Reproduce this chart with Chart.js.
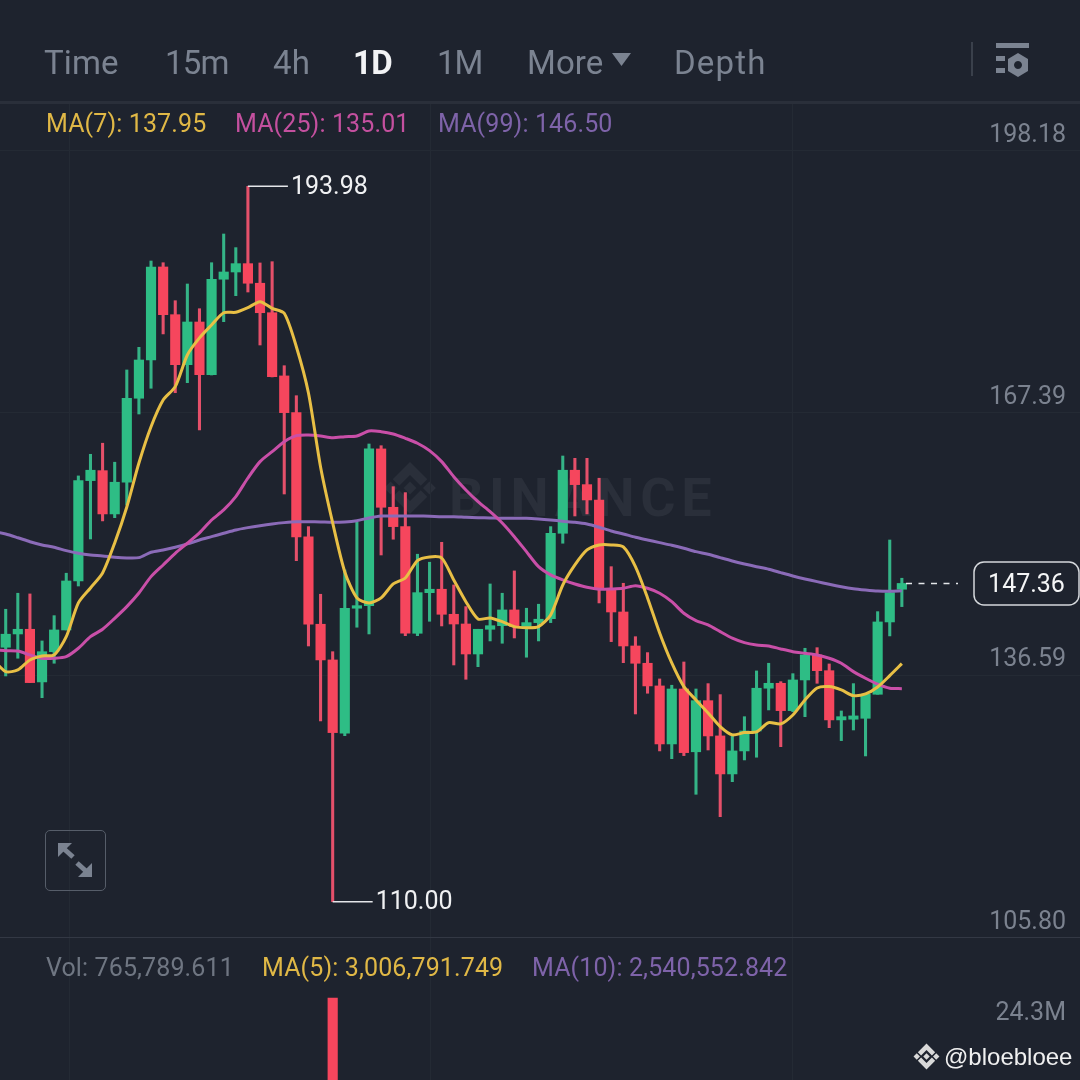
<!DOCTYPE html>
<html>
<head>
<meta charset="utf-8">
<script src="https://cdn.jsdelivr.net/npm/chart.js@4"></script>
<style>
body{margin:0;background:#1e232e;width:1080px;height:1080px;overflow:hidden;position:relative;font-family:Roboto,sans-serif;}
canvas{position:absolute;left:0;}
.t{position:absolute;white-space:nowrap;line-height:1;transform:translateY(-50%);}
.tab{font-size:33px;color:#7b8391;letter-spacing:.1px;}
.ma{font-size:25px;letter-spacing:.12px;}
.yellow{color:#e0b846;}
.pink{color:#c4509f;}
.purple{color:#7e63a9;}
.line{position:absolute;background:#2a2f3a;}
svg{position:absolute;}
</style>
</head>
<body>

<!-- watermark sits under the charts -->
<svg style="left:383px;top:461px" width="54" height="54" viewBox="0 0 100 100" fill="#2a2f3a">
<polygon points="50,2 82,34 70,46 50,26 30,46 18,34"/>
<polygon points="50,98 82,66 70,54 50,74 30,54 18,66"/>
<polygon points="50,38 62,50 50,62 38,50"/>
<polygon points="14,38 26,50 14,62 2,50"/>
<polygon points="86,38 98,50 86,62 74,50"/>
</svg>
<div class="t" style="left:449px;top:498px;font-size:54px;font-weight:700;letter-spacing:5.6px;color:#2a2f3a">BINANCE</div>

<canvas id="priceChart" width="1080" height="938" style="top:0"></canvas>
<canvas id="volChart" width="1080" height="142" style="top:938px"></canvas>

<!-- top bar -->
<div class="t tab" style="left:44px;top:62px">Time</div>
<div class="t tab" style="left:165px;top:62px;letter-spacing:-.8px">15m</div>
<div class="t tab" style="left:273px;top:62px">4h</div>
<div class="t tab" style="left:353px;top:62px;color:#f2f3f5;font-weight:700;letter-spacing:-.6px">1D</div>
<div class="t tab" style="left:437px;top:62px;letter-spacing:-1px">1M</div>
<div class="t tab" style="left:527px;top:62px">More</div>
<svg style="left:612px;top:53px" width="19" height="14"><polygon points="0,0 19,0 9.5,13" fill="#7b8391"/></svg>
<div class="t tab" style="left:674px;top:62px;letter-spacing:1.2px">Depth</div>
<div class="line" style="left:971px;top:42px;width:2px;height:34px;background:#3a404b"></div>
<svg style="left:996px;top:43px" width="34" height="34" fill="#7b8391">
<rect x="0" y="0" width="33" height="5"/>
<rect x="0" y="13" width="9" height="5"/>
<rect x="0" y="25" width="9" height="5"/>
<path fill-rule="evenodd" d="M22 10 L32 16 L32 28 L22 34 L12 28 L12 16 Z M22 18 a4 4 0 1 0 .01 0 Z"/>
</svg>
<div class="line" style="left:0;top:101px;width:1080px;height:3px"></div>

<!-- MA legend -->
<div class="t ma yellow" style="left:46px;top:123px">MA(7): 137.95</div>
<div class="t ma pink" style="left:235px;top:123px">MA(25): 135.01</div>
<div class="t ma purple" style="left:438px;top:123px">MA(99): 146.50</div>

<!-- expand button -->
<div style="position:absolute;left:45px;top:830px;width:59px;height:59px;border:1.5px solid #565d69;border-radius:5px"></div>
<svg style="left:57px;top:842px" width="36" height="36" fill="#7b8391" stroke="#7b8391">
<polygon points="1,1 15,1 1,15" stroke="none"/>
<line x1="6" y1="6" x2="16" y2="15" stroke-width="5"/>
<polygon points="35,35 21,35 35,21" stroke="none"/>
<line x1="30" y1="30" x2="20" y2="21" stroke-width="5"/>
</svg>

<!-- volume legend -->
<div class="t ma" style="left:46px;top:967px;color:#6f7682">Vol: 765,789.611</div>
<div class="t ma yellow" style="left:262px;top:967px">MA(5): 3,006,791.749</div>
<div class="t ma purple" style="left:532px;top:967px">MA(10): 2,540,552.842</div>

<!-- footer tag -->
<svg style="left:913px;top:1043px" width="27" height="27" viewBox="0 0 100 100" fill="#d9d9d9">
<polygon points="50,2 82,34 70,46 50,26 30,46 18,34"/>
<polygon points="50,98 82,66 70,54 50,74 30,54 18,66"/>
<polygon points="50,38 62,50 50,62 38,50"/>
<polygon points="14,38 26,50 14,62 2,50"/>
<polygon points="86,38 98,50 86,62 74,50"/>
</svg>
<div class="t" style="left:944px;top:1057px;font-family:'Liberation Sans';font-size:24px;color:#f0f0f0">@bloebloee</div>

<script>
/* data */

const opens = [139.87,141.43,141.98,135.80,139.35,141.90,147.65,159.43,160.60,155.52,159.24,169.10,173.59,184.51,178.91,173.04,178.05,171.87,183.07,183.92,184.90,182.60,179.14,171.72,167.41,152.82,142.57,138.38,129.78,144.45,144.75,163.15,156.30,154.03,141.51,146.28,146.68,143.74,142.60,139.08,141.98,142.40,144.25,142.29,142.76,143.23,153.25,160.65,158.96,157.16,146.71,144.01,140.02,137.99,135.33,128.52,134.97,127.60,133.60,129.46,125.00,127.70,130.04,135.06,135.64,132.43,136.03,138.97,137.12,131.34,131.42,131.53,134.35,142.84,146.68];
const closes = [141.40,141.98,135.72,139.35,141.90,147.65,159.43,160.65,155.52,159.24,169.10,173.59,184.51,178.91,173.04,178.05,171.87,183.07,183.92,184.90,182.60,179.14,171.63,167.41,152.82,142.57,138.38,129.85,144.45,144.75,163.15,156.30,154.03,141.51,146.28,146.68,143.74,142.60,139.08,141.98,142.40,144.25,142.29,142.76,143.16,153.25,160.65,158.96,157.16,146.71,144.01,140.02,137.99,135.33,128.52,134.97,127.50,133.60,129.46,125.00,127.70,130.04,135.06,135.64,132.43,136.03,138.97,137.12,131.34,131.72,131.81,134.35,142.84,146.28,147.36];
const highs = [144.33,146.21,146.13,140.61,143.58,148.56,159.98,162.52,163.82,161.59,172.42,175.08,185.21,185.01,180.55,182.51,179.61,185.01,188.38,186.78,193.98,184.98,185.13,172.92,169.40,154.03,146.09,139.35,148.94,154.61,163.73,163.53,158.72,158.02,150.79,149.85,152.19,147.18,144.64,141.98,147.30,146.21,148.83,144.45,144.92,154.03,162.32,162.05,162.05,159.71,149.33,147.38,141.11,139.24,136.15,135.41,138.14,134.97,135.60,134.31,129.69,131.72,137.09,137.99,135.83,136.77,139.75,139.82,137.91,132.39,135.60,134.35,144.05,152.46,147.97];
const lows = [136.50,138.58,135.72,133.95,137.99,141.90,147.06,152.58,154.70,155.08,156.57,167.25,170.27,176.65,169.75,170.93,165.38,171.83,178.09,181.14,181.57,175.35,171.60,157.86,150.03,140.02,131.22,110.00,129.49,142.22,141.43,150.70,152.55,141.23,141.23,142.92,142.37,137.79,136.11,137.59,140.61,140.34,140.96,138.70,140.61,142.76,152.08,155.28,155.52,145.07,140.53,138.06,132.04,134.47,127.70,126.79,127.15,122.61,127.81,119.98,124.09,126.64,126.96,132.51,128.20,132.31,131.72,135.64,130.43,128.91,130.16,127.11,134.35,141.20,144.64];

/* moving averages, first value is just off the left edge */
const ma7 = [138.38,137.01,137.21,138.38,138.85,138.97,141.11,145.07,146.83,148.59,152.11,156.34,161.50,165.76,168.90,170.46,174.18,176.18,177.70,179.14,179.19,179.73,180.44,179.66,179.07,175.15,169.72,161.03,154.46,148.71,145.66,145.07,145.66,147.30,148.00,150.04,150.47,150.35,147.77,145.22,143.19,143.31,142.87,142.29,142.17,142.29,143.66,147.18,149.53,151.29,151.88,151.88,151.64,149.33,145.66,141.55,138.03,135.25,133.68,132.16,130.55,129.58,129.85,129.93,131.02,130.87,131.92,133.68,135.09,135.25,134.86,134.19,134.39,135.21,136.54,137.95];
const ma25 = [139.55,139.47,139.43,138.97,138.58,138.58,138.77,139.75,141.11,141.98,143.27,144.64,146.24,148.16,149.53,150.90,152.08,153.29,154.81,155.99,157.55,159.74,161.66,162.83,164.00,164.71,164.79,164.67,164.47,164.59,164.67,165.26,165.18,164.91,164.40,163.82,162.95,161.66,159.89,158.33,156.96,155.79,154.46,152.85,151.09,149.33,148.36,147.77,147.30,146.91,146.68,146.71,146.79,147.10,146.79,146.21,145.22,143.86,142.99,142.49,141.70,140.93,140.41,140.14,140.02,139.67,139.35,139.16,138.97,138.58,137.99,137.01,136.23,135.53,135.06,135.01];
const ma99 = [153.46,153.17,152.73,152.26,151.88,151.61,151.21,150.90,150.70,150.59,150.43,150.35,150.39,151.02,151.29,151.61,152.00,152.46,152.85,153.25,153.64,153.91,154.14,154.34,154.50,154.61,154.61,154.58,154.54,154.58,154.73,155.05,155.28,155.28,155.28,155.28,155.25,155.20,155.20,155.13,155.08,155.05,155.01,155.01,155.01,154.93,154.81,154.66,154.54,154.34,153.96,153.52,153.17,152.78,152.46,152.15,151.84,151.49,151.09,150.79,150.39,150.00,149.65,149.33,149.03,148.63,148.24,147.89,147.57,147.26,146.98,146.75,146.60,146.48,146.45,146.50];

const priceTicks = [198.18,167.39,136.59,105.80];
const timeTicks = [5.23,35.08,64.93];
const highLabel = {index: 20, value: 193.98};
const lowLabel = {index: 27, value: 110.00};
const lastPrice = 147.36;

/* only one volume bar is inside the picture */
const volIndex = [27];
const volValues = [26.96];
const volTicks = [24.3];

/* style */

const green = "#2ebd85";
const red = "#f6465d";
const gridColor = "#242a34";
const axisText = "#7b828f";
const xRange = {min: -0.471, max: 88.71};

Chart.defaults.animation = false;
Chart.defaults.font.family = "Roboto";

const candleColors = opens.map((o,i) => closes[i] >= o ? green : red);
const wickColors = opens.map((o,i) => closes[i] >= o ? "#35b487" : "#e5506a");

function maSet(values, color){
return {
type: "line",
data: values.map((v,i) => ({x: i-1, y: v})),
borderColor: color,
borderWidth: 3,
pointRadius: 0,
tension: 0.25,
order: 0
};
}

function xAxis(){
return {
type: "linear",
min: xRange.min,
max: xRange.max,
offset: false,
border: {display: false},
grid: {color: gridColor, drawTicks: false, offset: false},
ticks: {display: false},
afterBuildTicks: scale => { scale.ticks = timeTicks.map(v => ({value: v})); }
};
}

/* the y axes sit on top of the plot and must not take any room from it */
function flatAxis(scale){
scale.width = 0;
scale.paddingTop = 0;
scale.paddingBottom = 0;
}

/* labels and guide lines that follow the scales */

const pricePlugin = {
id: "priceLabels",
afterDraw(chart){

const ctx = chart.ctx;
const x = chart.scales.x;
const y = chart.scales.y;

ctx.save();
ctx.font = "25px Roboto";
ctx.textBaseline = "middle";
ctx.textAlign = "left";
ctx.fillStyle = "#f0f1f3";
ctx.strokeStyle = "#e4e6e9";
ctx.lineWidth = 1.5;

[highLabel, lowLabel].forEach(m => {
let px = x.getPixelForValue(m.index);
let py = y.getPixelForValue(m.value);
ctx.beginPath();
ctx.moveTo(px, py);
ctx.lineTo(px + 40, py);
ctx.stroke();
ctx.fillText(m.value.toFixed(2), px + 43, py + 1);
});

/* last price */
let py = y.getPixelForValue(lastPrice);
ctx.setLineDash([6,6.5]);
ctx.beginPath();
ctx.moveTo(906, py);
ctx.lineTo(958, py);
ctx.stroke();
ctx.setLineDash([]);

ctx.fillStyle = "#1e232e";
ctx.strokeStyle = "#d5d8dc";
ctx.beginPath();
ctx.roundRect(974, 562, 105, 43, 10);
ctx.fill();
ctx.stroke();

ctx.fillStyle = "#f4f5f6";
ctx.textAlign = "center";
ctx.fillText(lastPrice.toFixed(2), 1026.5, 586);
ctx.restore();

}
};

/* price chart */

new Chart(document.getElementById("priceChart"), {
type: "bar",
data: {
datasets: [
maSet(ma7, "#e8bf45"),
maSet(ma25, "#c94fa8"),
maSet(ma99, "#8b6bb8"),
{
data: opens.map((o,i) => ({x: i, y: [o, closes[i]]})),
backgroundColor: candleColors,
barThickness: 9.5,
grouped: false,
order: 1
},
{
data: lows.map((l,i) => ({x: i, y: [l, highs[i]]})),
backgroundColor: wickColors,
barThickness: 2.4,
grouped: false,
order: 2
}
]
},
options: {
responsive: false,
layout: {autoPadding: false, padding: {top: 104}},
plugins: {legend: {display: false}, tooltip: {enabled: false}},
scales: {
x: xAxis(),
y: {
position: "right",
min: 105.74,
max: 203.64,
border: {display: false},
grid: {
drawTicks: false,
color: c => c.tick && c.tick.value === 105.8 ? "#333844" : gridColor
},
ticks: {
mirror: true,
padding: -14,
labelOffset: -15,
color: axisText,
font: {size: 25},
callback: v => v.toFixed(2)
},
afterFit: flatAxis,
afterBuildTicks: scale => { scale.ticks = priceTicks.map(v => ({value: v})); }
}
}
},
plugins: [pricePlugin]
});

/* volume chart */

new Chart(document.getElementById("volChart"), {
type: "bar",
data: {
datasets: [{
data: volValues.map((v,i) => ({x: volIndex[i], y: v})),
backgroundColor: red,
barThickness: 9.5
}]
},
options: {
responsive: false,
layout: {autoPadding: false},
plugins: {legend: {display: false}, tooltip: {enabled: false}},
scales: {
x: xAxis(),
y: {
position: "right",
min: 19.93,
max: 32.1,
border: {display: false},
grid: {display: false},
ticks: {
mirror: true,
padding: -14,
labelOffset: -15,
color: axisText,
font: {size: 25},
callback: v => v.toFixed(1) + "M"
},
afterFit: flatAxis,
afterBuildTicks: scale => { scale.ticks = volTicks.map(v => ({value: v})); }
}
}
}
});
</script>
</body>
</html>
